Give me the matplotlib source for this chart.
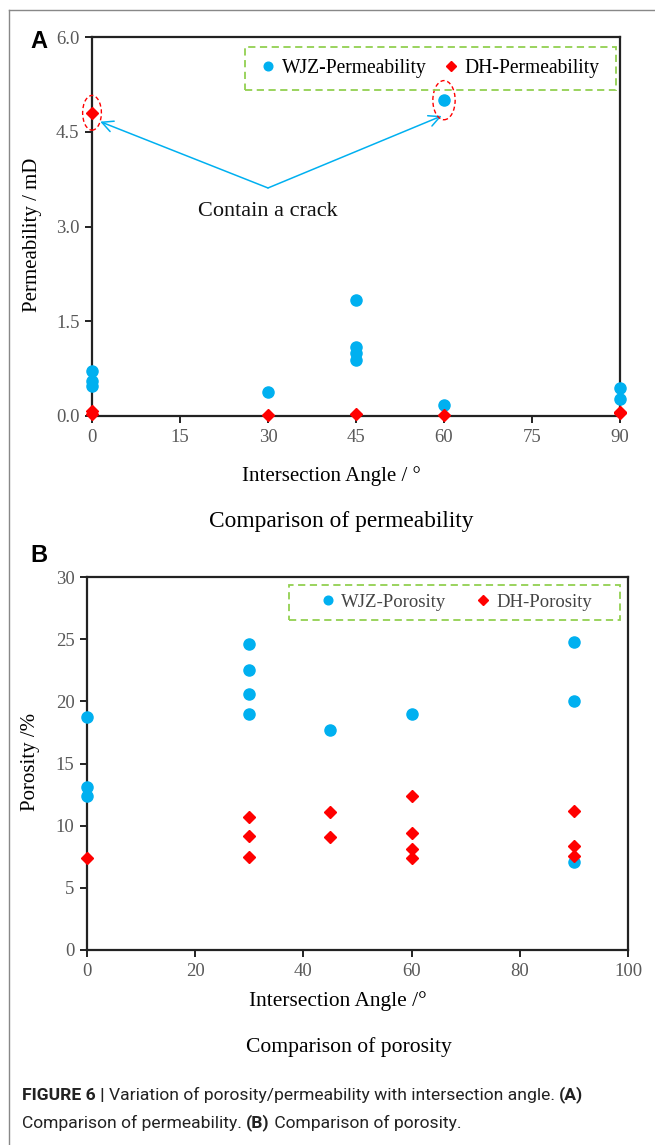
import matplotlib
matplotlib.use("Agg")
import matplotlib.pyplot as plt
from matplotlib.lines import Line2D
from matplotlib.patches import Ellipse, Rectangle
from matplotlib import font_manager

# ---------------- data ----------------
perm_wjz_x = [0, 0, 0, 30, 45, 45, 45, 45, 60, 60, 90, 90]
perm_wjz_y = [0.72, 0.55, 0.48, 0.38, 1.83, 1.09, 1.00, 0.88, 0.17, 5.00, 0.44, 0.27]
perm_dh_x = [0, 0, 0, 30, 45, 60, 90, 90]
perm_dh_y = [4.80, 0.08, 0.03, 0.02, 0.03, 0.02, 0.06, 0.04]

por_wjz_x = [0, 0, 0, 30, 30, 30, 30, 45, 60, 90, 90, 90]
por_wjz_y = [18.75, 13.1, 12.4, 24.6, 22.5, 20.6, 19.0, 17.7, 19.0, 24.8, 20.0, 7.1]
por_dh_x = [0, 30, 30, 30, 45, 45, 60, 60, 60, 60, 90, 90, 90]
por_dh_y = [7.4, 10.7, 9.2, 7.5, 11.1, 9.1, 12.4, 9.4, 8.1, 7.4, 11.2, 8.4, 7.6]

perm_xticks = [0, 15, 30, 45, 60, 75, 90]
perm_yticks = [0.0, 1.5, 3.0, 4.5, 6.0]
por_xticks = [0, 20, 40, 60, 80, 100]
por_yticks = [0, 5, 10, 15, 20, 25, 30]

BLUE = "#00B0F0"
RED = "#FF0000"
GREEN = "#92D050"
TICKC = "#595959"
SERIF = "Liberation Serif"

avail = {f.name for f in font_manager.fontManager.ttflist}
CAPF = "Liberation Sans Narrow" if "Liberation Sans Narrow" in avail else "Roboto"

W, H = 655, 1145
fig = plt.figure(figsize=(W / 100, H / 100), dpi=100)

def fx(px):
    return px / W

def fy(py):
    return 1 - py / H

def ax_rect(l, t, r, b):
    return [l / W, 1 - b / H, (r - l) / W, (b - t) / H]

def style_axes(ax):
    for s in ax.spines.values():
        s.set_linewidth(1.6)
        s.set_color("#222222")
    ax.tick_params(direction="out", length=5, width=1.4, color="#222222",
                   labelcolor=TICKC, labelsize=13.5, pad=4)
    for lab in ax.get_xticklabels() + ax.get_yticklabels():
        lab.set_fontfamily(SERIF)

def dashed_box(l, t, r, b):
    fig.add_artist(Rectangle((fx(l), fy(b)), (r - l) / W, (b - t) / H, transform=fig.transFigure,
                             fill=False, ec=GREEN, lw=1.3, ls=(0, (4, 2.5))))

# ---------------- panel A ----------------
axA = fig.add_axes(ax_rect(92, 37, 620, 416))
axA.plot(perm_wjz_x, perm_wjz_y, "o", color=BLUE, ms=8, mec=BLUE, clip_on=False,
         label="WJZ-Permeability", zorder=5)
axA.plot(perm_dh_x, perm_dh_y, "D", color=RED, ms=6.5, mec=RED, clip_on=False,
         label="DH-Permeability", zorder=6)
axA.set_xlim(0, 90)
axA.set_ylim(0, 6)
axA.set_xticks(perm_xticks)
axA.set_yticks(perm_yticks)
axA.set_yticklabels([f"{v:.1f}" for v in perm_yticks])
style_axes(axA)
fig.text(fx(331), fy(476), "Intersection Angle / °", fontsize=15, family=SERIF,
         ha="center", va="center")
fig.text(fx(33), fy(235), "Permeability / mD", fontsize=15, family=SERIF,
         ha="center", va="center", rotation=90)

hA = axA.get_legend_handles_labels()
legA = axA.legend(hA[0], hA[1], loc="center", bbox_to_anchor=(fx(431), fy(68.5)),
                  bbox_transform=fig.transFigure, ncol=2, prop={"family": SERIF, "size": 14.1},
                  frameon=False, handletextpad=0.39, columnspacing=0.97, handlelength=0.6,
                  borderaxespad=0, borderpad=0, markerscale=0.78)
dashed_box(245, 47, 616, 90)

axA.add_patch(Ellipse((0, 4.8), 3.2, 0.55, fill=False, ec=RED, ls=(0, (3, 2)), lw=1.0,
                      clip_on=False, zorder=7))
axA.add_patch(Ellipse((60, 5.0), 3.8, 0.62, fill=False, ec=RED, ls=(0, (3, 2)), lw=1.0,
                      clip_on=False, zorder=7))
vx, vy = 30.0, 3.61
axA.annotate("", xy=(1.4, 4.66), xytext=(vx, vy),
             arrowprops=dict(arrowstyle="->,head_length=0.8,head_width=0.4", color=BLUE, lw=1.1,
                             shrinkA=0, shrinkB=0))
axA.annotate("", xy=(59.6, 4.75), xytext=(vx, vy),
             arrowprops=dict(arrowstyle="->,head_length=0.8,head_width=0.4", color=BLUE, lw=1.1,
                             shrinkA=0, shrinkB=0))
axA.text(30, 3.24, "Contain a crack", ha="center", va="center", fontsize=16, family=SERIF,
         color="#111111")

# ---------------- panel B ----------------
axB = fig.add_axes(ax_rect(87, 577, 628, 950))
axB.plot(por_wjz_x, por_wjz_y, "o", color=BLUE, ms=8, mec=BLUE, clip_on=False,
         label="WJZ-Porosity", zorder=5)
axB.plot(por_dh_x, por_dh_y, "D", color=RED, ms=6.5, mec=RED, clip_on=False,
         label="DH-Porosity", zorder=6)
axB.set_xlim(0, 100)
axB.set_ylim(0, 30)
axB.set_xticks(por_xticks)
axB.set_yticks(por_yticks)
style_axes(axB)
fig.text(fx(338), fy(1001), "Intersection Angle /°", fontsize=15.4, family=SERIF,
         ha="center", va="center")
fig.text(fx(31), fy(762), "Porosity /%", fontsize=15, family=SERIF,
         ha="center", va="center", rotation=90)

hB = axB.get_legend_handles_labels()
legB = axB.legend(hB[0], hB[1], loc="center", bbox_to_anchor=(fx(457), fy(602.5)),
                  bbox_transform=fig.transFigure, ncol=2, prop={"family": SERIF, "size": 13.5},
                  frameon=False, handletextpad=0.39, columnspacing=1.67, handlelength=0.6,
                  borderaxespad=0, borderpad=0, markerscale=0.78, labelcolor="#444444")
dashed_box(289, 585, 620, 620)

# ---------------- figure texts ----------------
fig.text(fx(30), fy(42), "A", fontsize=17, fontweight="bold", family="Liberation Sans",
         ha="left", va="center")
fig.text(fx(30), fy(556), "B", fontsize=17, fontweight="bold", family="Liberation Sans",
         ha="left", va="center")
fig.text(fx(341), fy(521), "Comparison of permeability", fontsize=16.8, family=SERIF,
         ha="center", va="center")
fig.text(fx(349), fy(1047), "Comparison of porosity", fontsize=15.6, family=SERIF,
         ha="center", va="center")

# frame lines
fig.add_artist(Line2D([fx(9), 1], [fy(10), fy(10)], color="#888888", lw=1.0))
fig.add_artist(Line2D([fx(9), fx(9)], [fy(10), 0], color="#888888", lw=1.0))

# caption with mixed bold
def rich_line(x0, y, pieces, size=12.6):
    fig.canvas.draw()
    r = fig.canvas.get_renderer()
    x = x0
    for txt, bold in pieces:
        t = fig.text(fx(x), fy(y), txt, fontsize=size, family=CAPF,
                     fontweight="bold" if bold else "normal", ha="left", va="center",
                     color="#222222")
        bb = t.get_window_extent(renderer=r)
        x += bb.width

rich_line(22, 1095, [("FIGURE 6 | ", True),
                     ("Variation of porosity/permeability with intersection angle. ", False),
                     ("(A)", True)])
rich_line(22, 1123, [("Comparison of permeability. ", False), ("(B)", True),
                     (" Comparison of porosity.", False)])

fig.savefig("out.png", dpi=100)
